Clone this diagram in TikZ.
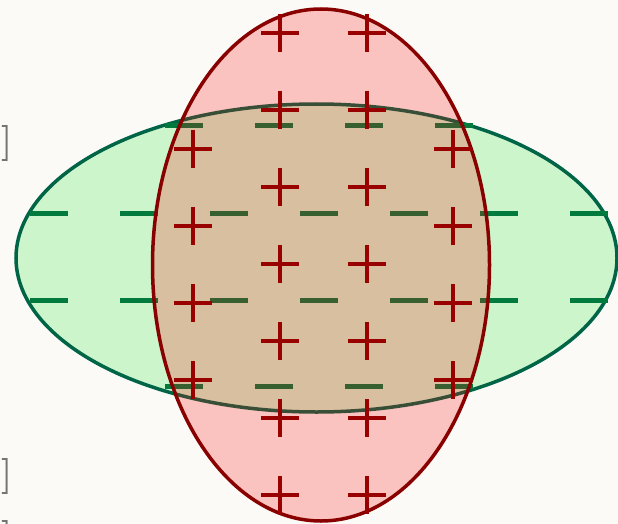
\documentclass[tikz,border=0pt]{standalone}

\definecolor{paper}{RGB}{251,250,246}
\definecolor{posline}{RGB}{136,0,0}
\definecolor{possign}{RGB}{153,0,0}
\definecolor{negline}{RGB}{0,100,70}
\definecolor{negsign}{RGB}{0,122,61}
\definecolor{negfill}{RGB}{204,245,204}

\begin{document}
\begin{tikzpicture}[
  x=1pt, y=-1pt,
  negregion/.style={fill=negfill, draw=negline, line width=3.5pt},
  posregion/.style={fill=red, fill opacity=0.22},
  posborder/.style={draw=posline, line width=3.5pt},
  minussign/.style={draw=negsign, line width=5pt},
  plussign/.style={draw=possign, line width=4pt},
  bracket/.style={text=black!55, font=\fontsize{36}{36}\selectfont\bfseries, inner sep=0pt, anchor=base east}
]
\useasboundingbox (0,0) rectangle (618,524);
\fill[paper] (0,0) rectangle (618,524);

% brackets cut at the left margin
\node[bracket] (brA) at (13,152) {]};
\node[bracket] (brB) at (13,485) {]};
\node[bracket] (brC) at (13,547) {]};

% negative region
\path[negregion] (316.5,258) ellipse [x radius=300.5pt, y radius=154pt];
\foreach \y in {213,300}
  \foreach \x in {49,139,229,319,409,499,589}
    \draw[minussign] (\x-19,\y) -- (\x+19,\y);
\foreach \y in {126,386}
  \foreach \x in {184,274,364,454}
    \draw[minussign] (\x-19,\y) -- (\x+19,\y);

% positive region
\path[posregion] (321,265) ellipse [x radius=168.5pt, y radius=256pt];
\path[posborder] (321,265) ellipse [x radius=168.5pt, y radius=256pt];
\foreach \y in {33,110,187,264,341,418,495}
  \foreach \x in {280,367}
    \draw[plussign] (\x-19,\y) -- (\x+19,\y) (\x,\y-19) -- (\x,\y+19);
\foreach \y in {149,226,303,380}
  \foreach \x in {193,453}
    \draw[plussign] (\x-19,\y) -- (\x+19,\y) (\x,\y-19) -- (\x,\y+19);
\end{tikzpicture}
\end{document}
